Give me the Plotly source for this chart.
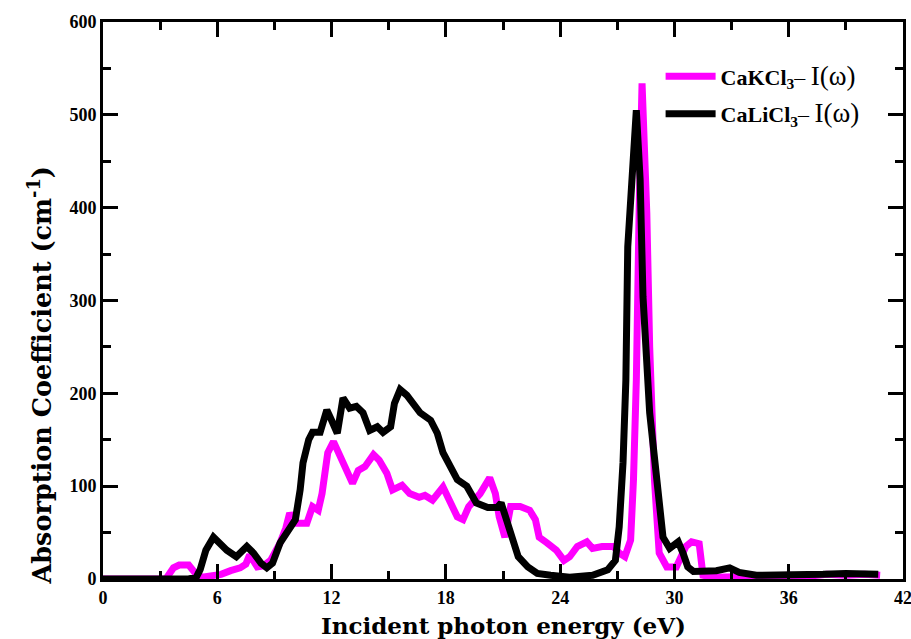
import plotly.graph_objects as go

# CaKCl3 absorption (magenta)
k_energy = [0, 3.3, 3.7, 4.0, 4.5, 4.9, 5.2, 5.6, 6.2, 6.7, 7.2, 7.5, 7.7, 8.1, 8.4, 8.8,
            9.3, 9.6, 9.8, 10.1, 10.7, 11.0, 11.3, 11.5, 11.8, 12.1, 12.4, 12.7, 13.1, 13.4,
            13.75, 14.2, 14.5, 14.9, 15.2, 15.7, 16.1, 16.6, 16.9, 17.3, 17.85, 18.2, 18.6,
            18.9, 19.2, 19.8, 20.3, 20.6, 20.8, 21.1, 21.4, 21.9, 22.4, 22.7, 22.9, 23.3,
            23.8, 24.2, 24.5, 24.9, 25.4, 25.7, 26.2, 26.8, 27.1, 27.4, 27.7, 27.85, 28.0,
            28.15, 28.3, 28.55, 28.7, 28.95, 29.2, 29.6, 30.1, 30.6, 30.9, 31.3, 31.5, 32.0,
            33.0, 34.0, 35.0, 36.0, 37.0, 38.0, 39.0, 40.0, 40.8]
k_absorption = [0, 0, 12, 15, 15, 5, 2, 3, 5, 9, 12, 16, 26, 13, 14, 20,
                39, 55, 71, 60, 60, 78, 74, 92, 136, 148, 136, 121, 103, 117,
                121, 134, 128, 114, 96, 101, 92, 88, 90, 85, 99, 82, 67,
                64, 78, 92, 109, 92, 67, 45, 78, 78, 74, 64, 45, 39,
                31, 20, 24, 35, 40, 33, 35, 35, 28, 24, 42, 107, 214,
                400, 534, 394, 250, 107, 28, 13, 13, 35, 40, 38, 4, 2,
                2, 3, 3, 4, 3, 5, 4, 5, 4]

# CaLiCl3 absorption (black)
li_energy = [0, 4.5, 4.9, 5.1, 5.4, 5.8, 6.1, 6.5, 7.0, 7.55, 7.9, 8.3, 8.6, 8.9, 9.3, 9.7,
             10.1, 10.35, 10.5, 10.8, 11.0, 11.4, 11.75, 12.0, 12.3, 12.6, 12.95, 13.3, 13.65,
             14.0, 14.4, 14.7, 15.1, 15.3, 15.6, 15.95, 16.3, 16.65, 17.2, 17.55, 17.85, 18.2,
             18.6, 19.1, 19.6, 20.2, 20.7, 20.9, 21.2, 21.5, 21.8, 22.3, 22.8, 23.5, 24.5,
             25.7, 26.5, 26.9, 27.1, 27.3, 27.45, 27.55, 28.0, 28.2, 28.35, 28.7, 29.1, 29.4,
             29.75, 30.2, 30.45, 30.7, 31.0, 31.3, 32.2, 32.9, 33.4, 34.3, 36.0, 37.8, 39.0,
             40.4, 40.7]
li_absorption = [0, 0, 2, 10, 31, 45, 39, 31, 24, 35, 28, 17, 12, 17, 39, 53,
                 64, 96, 125, 150, 158, 158, 182, 171, 157, 195, 184, 186, 179,
                 160, 164, 158, 164, 189, 204, 198, 189, 179, 171, 157, 136, 121,
                 107, 100, 82, 77, 77, 82, 64, 42, 24, 13, 6, 4, 2,
                 4, 10, 20, 56, 125, 214, 358, 505, 430, 304, 179, 107, 45,
                 33, 40, 28, 13, 8, 8, 9, 12, 7, 4, 4, 5, 6,
                 5, 5]

x_ticks = [0, 6, 12, 18, 24, 30, 36, 42]
y_ticks = [0, 100, 200, 300, 400, 500, 600]

FONT = "Liberation Serif"
TITLE_FONT = "DejaVu Serif"

fig = go.Figure()
fig.add_trace(go.Scatter(
    x=k_energy, y=k_absorption, mode="lines",
    line=dict(color="#ff00ff", width=7),
    legendgroup="k",
    name="<b>CaKCl<sub>3</sub></b>– <span style='font-size:27px'>I(ω)</span>",
))
fig.add_trace(go.Scatter(
    x=li_energy, y=li_absorption, mode="lines",
    line=dict(color="#000000", width=7),
    legendgroup="li",
    name="<b>CaLiCl<sub>3</sub></b>– <span style='font-size:27px'>I(ω)</span>",
))

axis_common = dict(
    showline=True, linecolor="black", linewidth=3, mirror="allticks",
    ticks="inside", ticklen=15, tickwidth=2.5, tickcolor="black",
    showgrid=False, zeroline=False, automargin=False, ticklabeloverflow="allow",
    tickfont=dict(family=FONT, size=18, color="black", weight="bold"),
)

fig.update_xaxes(
    range=[0, 42], tickvals=x_ticks, ticktext=[str(v) for v in x_ticks],
    minor=dict(dtick=3, ticks="inside", ticklen=8, tickwidth=2.5, tickcolor="black", showgrid=False),
    **axis_common,
)
fig.update_yaxes(
    range=[0, 600], tickvals=y_ticks, ticktext=[str(v) for v in y_ticks],
    minor=dict(dtick=50, ticks="inside", ticklen=8, tickwidth=2.5, tickcolor="black", showgrid=False),
    **axis_common,
)

fig.add_annotation(
    text="<b>Absorption Coefficient (cm<sup>-1</sup>)</b>",
    xref="paper", yref="paper", x=-0.079, y=0.365,
    xanchor="center", yanchor="middle", textangle=-90, showarrow=False,
    font=dict(family=TITLE_FONT, size=25.5, color="black"),
)
fig.add_annotation(
    text="<b>Incident photon energy (eV)</b>",
    xref="paper", yref="paper", x=0.5, y=-0.083,
    xanchor="center", yanchor="middle", showarrow=False,
    font=dict(family=TITLE_FONT, size=23, color="black"),
)

fig.update_layout(
    width=911, height=639,
    margin=dict(l=103, r=8, t=22, b=60),
    plot_bgcolor="white", paper_bgcolor="white",
    font=dict(family=FONT, color="black"),
    showlegend=True,
    legend=dict(
        x=0.697, y=0.94, xanchor="left", yanchor="top",
        bgcolor="rgba(0,0,0,0)", borderwidth=0,
        font=dict(family=FONT, size=22, color="black"),
        tracegroupgap=6, itemwidth=50,
    ),
)

fig.write_html("out.html", config={"displayModeBar": False},
               post_script="document.body.style.margin='0';")
